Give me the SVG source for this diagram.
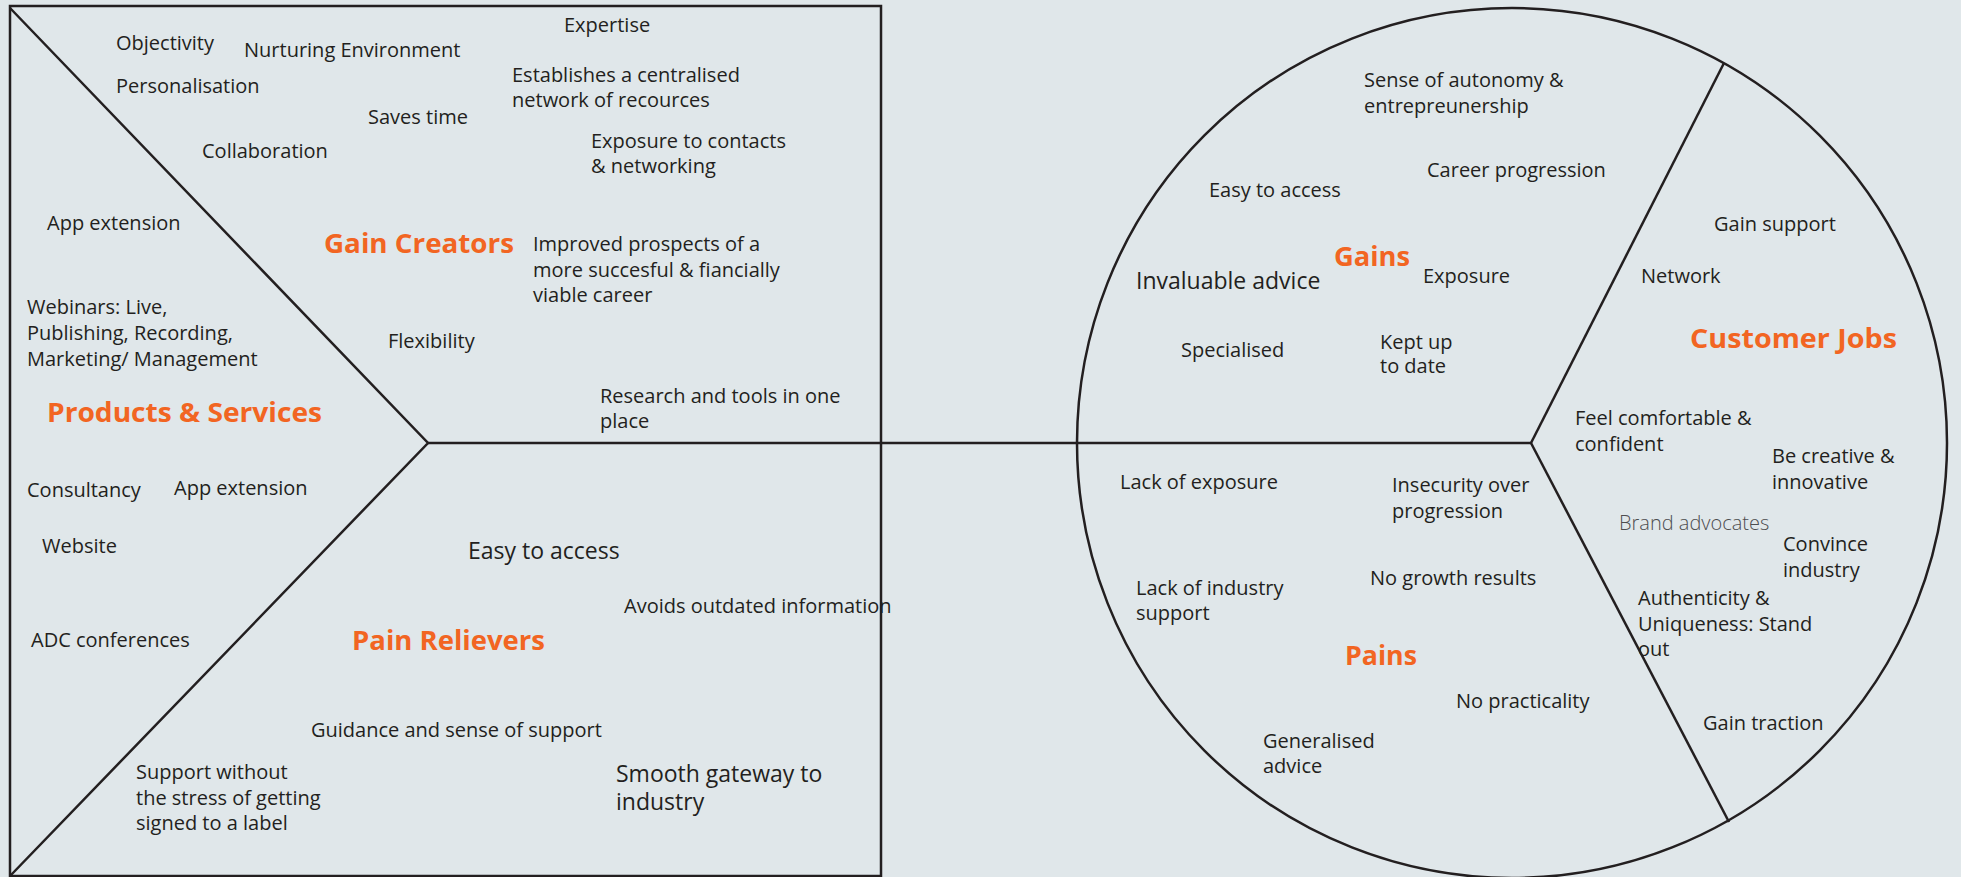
<svg xmlns="http://www.w3.org/2000/svg" width="1961" height="877" viewBox="0 0 1961 877">
<style>
.bg{fill:#e0e7ea}
.ln{fill:none;stroke:#231f20;stroke-width:2.5}
text{font-family:"Open Sans","Liberation Sans",sans-serif;font-size:20px;fill:#231f20}
.big{font-size:23px}
.h{font-weight:700;font-size:26px;fill:#f26522}
.gray{fill:#4d4d4f;font-weight:300}
</style>
<rect class="bg" x="0" y="0" width="1961" height="877"/>
<g id="connectors">
<rect class="ln" x="10" y="6" width="871" height="870"/>
<polyline class="ln" points="10,8 428,443 11,875"/>
<line class="ln" x1="428" y1="443" x2="1531" y2="443"/>
<circle class="ln" cx="1512" cy="443" r="435"/>
<line class="ln" x1="1531" y1="443" x2="1724" y2="63"/>
<line class="ln" x1="1531" y1="443" x2="1729" y2="822"/>
</g>
<g id="gain-creators">
<text class="h" x="324" y="253" textLength="190" lengthAdjust="spacingAndGlyphs">Gain Creators</text>
<text x="564" y="32">Expertise</text>
<text x="116" y="50">Objectivity</text>
<text x="244" y="57">Nurturing Environment</text>
<text x="116" y="93">Personalisation</text>
<text x="512" y="82">Establishes a centralised</text>
<text x="512" y="107">network of recources</text>
<text x="368" y="124">Saves time</text>
<text x="591" y="148">Exposure to contacts</text>
<text x="591" y="173">&amp; networking</text>
<text x="202" y="158">Collaboration</text>
<text x="533" y="251">Improved prospects of a</text>
<text x="533" y="276.5">more succesful &amp; fiancially</text>
<text x="533" y="302">viable career</text>
<text x="388" y="348">Flexibility</text>
<text x="600" y="403">Research and tools in one</text>
<text x="600" y="428">place</text>
</g>
<g id="products-services">
<text class="h" x="47" y="422" textLength="275" lengthAdjust="spacingAndGlyphs">Products &amp; Services</text>
<text x="47" y="230">App extension</text>
<text x="27" y="314">Webinars: Live,</text>
<text x="27" y="340">Publishing, Recording,</text>
<text x="27" y="366">Marketing/ Management</text>
<text x="27" y="497">Consultancy</text>
<text x="174" y="495">App extension</text>
<text x="42" y="553">Website</text>
<text x="31" y="647">ADC conferences</text>
</g>
<g id="pain-relievers">
<text class="h" x="352" y="650" textLength="193" lengthAdjust="spacingAndGlyphs">Pain Relievers</text>
<text class="big" x="468" y="559">Easy to access</text>
<text x="624" y="613">Avoids outdated information</text>
<text x="311" y="737">Guidance and sense of support</text>
<text x="136" y="779">Support without</text>
<text x="136" y="805">the stress of getting</text>
<text x="136" y="830">signed to a label</text>
<text class="big" x="616" y="782">Smooth gateway to</text>
<text class="big" x="616" y="810">industry</text>
</g>
<g id="gains">
<text class="h" x="1334" y="266" textLength="76" lengthAdjust="spacingAndGlyphs">Gains</text>
<text x="1364" y="87">Sense of autonomy &amp;</text>
<text x="1364" y="113">entrepreunership</text>
<text x="1427" y="177">Career progression</text>
<text x="1209" y="197">Easy to access</text>
<text class="big" x="1136" y="289">Invaluable advice</text>
<text x="1423" y="283">Exposure</text>
<text x="1181" y="357">Specialised</text>
<text x="1380" y="349">Kept up</text>
<text x="1380" y="373">to date</text>
</g>
<g id="customer-jobs">
<text class="h" x="1690" y="348" textLength="207" lengthAdjust="spacingAndGlyphs">Customer Jobs</text>
<text x="1714" y="231">Gain support</text>
<text x="1641" y="283">Network</text>
<text x="1575" y="425">Feel comfortable &amp;</text>
<text x="1575" y="451">confident</text>
<text x="1772" y="463">Be creative &amp;</text>
<text x="1772" y="489">innovative</text>
<text class="gray" x="1619" y="530">Brand advocates</text>
<text x="1783" y="551">Convince</text>
<text x="1783" y="577">industry</text>
<text x="1638" y="605">Authenticity &amp;</text>
<text x="1638" y="631">Uniqueness: Stand</text>
<text x="1638" y="656">out</text>
<text x="1703" y="730">Gain traction</text>
</g>
<g id="pains">
<text class="h" x="1345" y="665" textLength="72" lengthAdjust="spacingAndGlyphs">Pains</text>
<text x="1120" y="489">Lack of exposure</text>
<text x="1392" y="492">Insecurity over</text>
<text x="1392" y="518">progression</text>
<text x="1370" y="585">No growth results</text>
<text x="1136" y="595">Lack of industry</text>
<text x="1136" y="620">support</text>
<text x="1456" y="708">No practicality</text>
<text x="1263" y="748">Generalised</text>
<text x="1263" y="773">advice</text>
</g>
</svg>
